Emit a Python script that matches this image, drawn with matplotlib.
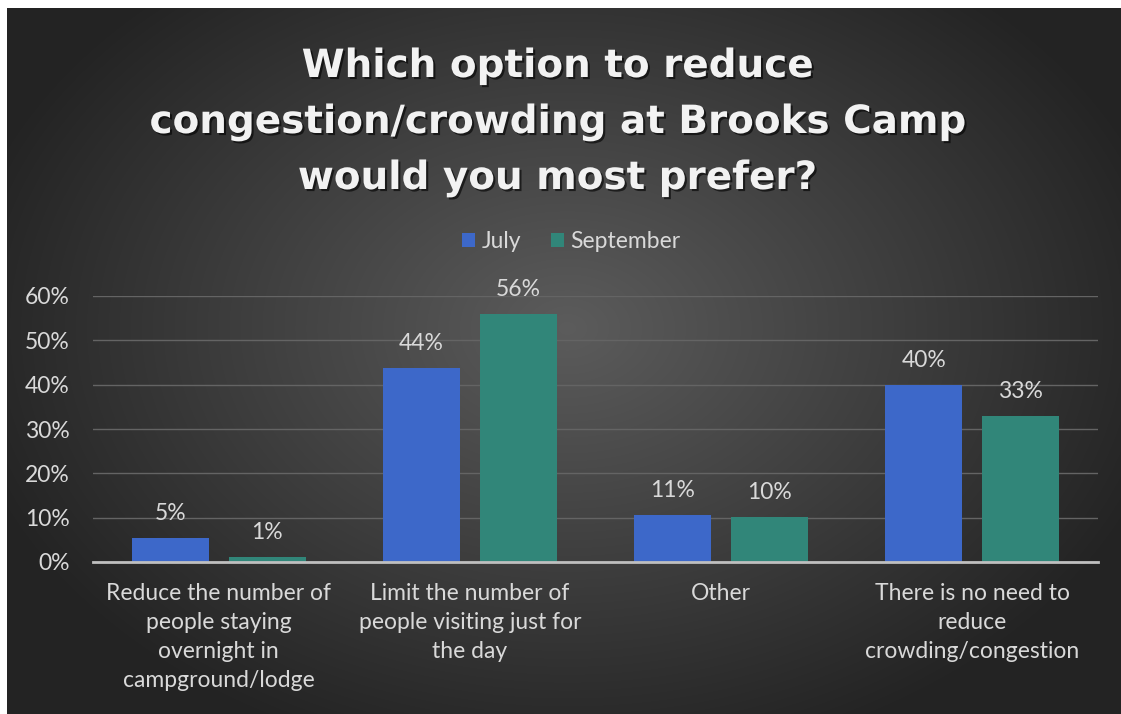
import numpy as np
import matplotlib
matplotlib.use('Agg')
import matplotlib.patheffects as pe
from matplotlib import pyplot as plt

categories = [
    'Reduce the number of\npeople staying\novernight in\ncampground/lodge',
    'Limit the number of\npeople visiting just for\nthe day',
    'Other',
    'There is no need to\nreduce\ncrowding/congestion',
]
july = [0.054, 0.438, 0.106, 0.40]
september = [0.011, 0.56, 0.102, 0.33]
series_names = ['July', 'September']
title = 'Which option to reduce\ncongestion/crowding at Brooks Camp\nwould you most prefer?'

blue = '#3d68c9'
teal = '#318679'
txt = '#d9d9d9'
fs = 16.5
plt.rcParams['font.family'] = ['Lato', 'DejaVu Sans']

fig = plt.figure(figsize=(11.21, 7.14), dpi=100, facecolor='white')

# dark panel with radial gradient
bg = fig.add_axes([7 / 1121, -0.01, 1.0, 1.01 - 8 / 714])
bg.set_axis_off()
yy, xx = np.mgrid[0:1:300j, 0:1:500j]
r = np.sqrt(((xx - 0.5) / 0.75) ** 2 + ((yy - 0.45) / 0.85) ** 2)
shade = np.clip(0.36 - 0.30 * r, 0.14, 0.36)
bg.imshow(np.dstack([shade] * 3), aspect='auto', extent=[0, 1, 0, 1],
          origin='upper', interpolation='bilinear')

ax = fig.add_axes([93 / 1121, 1 - 562 / 714, (1098 - 93) / 1121, (562 - 296) / 714])
ax.patch.set_alpha(0)

x = np.arange(len(categories))
w = 0.307
off = 0.193
b1 = ax.bar(x - off, july, w, color=blue, label=series_names[0], zorder=3)
b2 = ax.bar(x + off, september, w, color=teal, label=series_names[1], zorder=3)

for bars in (b1, b2):
    ax.bar_label(bars, labels=['%d%%' % round(v.get_height() * 100) for v in bars],
                 padding=10, color=txt, fontsize=fs)

ax.set_xlim(-0.5, len(categories) - 0.5)
ax.set_ylim(0, 0.6)
ax.set_yticks(np.arange(0, 0.61, 0.1))
ax.set_yticklabels(['%d%%' % v for v in range(0, 61, 10)])
ax.set_xticks(x)
ax.set_xticklabels(categories, linespacing=1.48)
ax.tick_params(axis='both', length=0, colors=txt, labelsize=fs)
ax.tick_params(axis='y', pad=17)
ax.tick_params(axis='x', pad=15)
ax.grid(axis='y', color='#646464', linewidth=1, zorder=0)
for s in ['top', 'right', 'left']:
    ax.spines[s].set_visible(False)
ax.spines['bottom'].set_color('#bfbfbf')
ax.spines['bottom'].set_linewidth(2)
ax.spines['bottom'].set_zorder(4)

leg = ax.legend(loc='center', bbox_to_anchor=(0.476, 1.205), ncol=2, frameon=False,
                fontsize=fs, labelcolor=txt, handlelength=0.55, handleheight=0.55,
                handletextpad=0.3, columnspacing=1.3)

fig.text(0.497, 1 - 122 / 714, title, ha='center', va='center', color='#f2f2f2',
         fontsize=28, fontweight='bold', linespacing=1.6, family=['DejaVu Sans'],
         path_effects=[pe.withSimplePatchShadow(offset=(1.5, -1.5), shadow_rgbFace='black', alpha=0.6)])

fig.savefig('out.png', dpi=100, facecolor='white')
